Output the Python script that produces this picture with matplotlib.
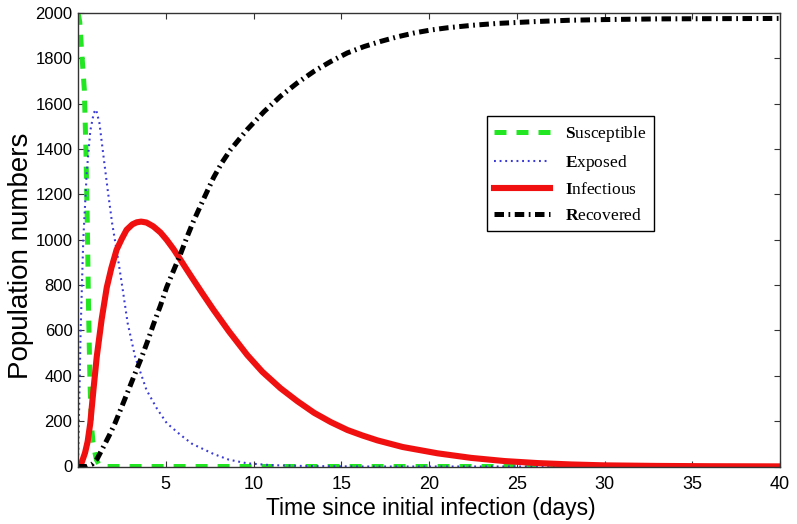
import matplotlib
matplotlib.use("Agg")
import matplotlib.pyplot as plt

# ---------------- data ----------------
t_S = [0, 0.1, 0.2, 0.3, 0.36, 0.45, 0.53, 0.6, 0.68, 0.76, 0.85, 0.93, 1.05, 1.2, 1.5, 40]
S = [2000, 1960, 1840, 1730, 1662, 1400, 1074, 700, 380, 191, 110, 74, 30, 8, 0, 0]

t_E = [0, 0.05, 0.15, 0.3, 0.5, 0.7, 0.9, 1.03, 1.22, 1.45, 1.69, 1.95, 2.26, 2.55,
       2.83, 3.25, 3.9, 4.5, 5.06, 5.83, 6.5, 7.73, 8.6, 9.64, 11, 13, 16, 20, 40]
E = [0, 200, 600, 1000, 1300, 1480, 1560, 1574, 1515, 1370, 1221, 1070, 926, 779,
     632, 485, 338, 255, 191, 140, 100, 55, 30, 14, 6, 2, 0, 0, 0]

t_I = [0, 0.2, 0.4, 0.55, 0.7, 0.88, 1.07, 1.35, 1.64, 1.9, 2.2, 2.5, 2.77, 3.1, 3.35,
       3.6, 3.9, 4.29, 4.7, 5.05, 5.45, 5.81, 6.2, 6.57, 7.1, 7.73, 8.6, 9.64, 10.5,
       11.54, 12.5, 13.45, 14.4, 15.35, 16.2, 17.07, 18.5, 20.5, 22.4, 24.3, 26.2,
       28.1, 30, 33, 36, 40]
I = [0, 15, 60, 110, 191, 338, 485, 650, 790, 875, 956, 1005, 1044, 1068, 1077,
     1080, 1076, 1059, 1032, 1000, 958, 915, 868, 824, 762, 690, 596, 492, 418,
     345, 288, 237, 196, 161, 137, 115, 86, 58, 38, 24, 15, 9, 5, 2.5, 1.2, 0.5]

t_R = [0, 0.5, 0.8, 1.1, 1.45, 1.8, 2.11, 2.5, 2.88, 3.25, 3.64, 4.0, 4.29, 4.7,
       5.05, 5.45, 5.83, 6.2, 6.57, 7.14, 7.73, 8.2, 8.69, 9.64, 10.6, 11.54, 12.5,
       13.45, 14.4, 15.35, 16.3, 17.26, 18.2, 19.16, 20.1, 21.07, 22.5, 23.9, 26,
       28, 30, 33, 36, 40]
R = [0, 0, 10, 35, 87, 140, 191, 265, 338, 410, 485, 560, 625, 710, 790, 865, 935,
     1010, 1080, 1177, 1275, 1340, 1397, 1486, 1565, 1633, 1692, 1743, 1786, 1824,
     1852, 1875, 1895, 1912, 1925, 1935, 1946, 1954, 1962, 1968, 1971, 1974, 1975,
     1976]

labels = [r"$\mathbf{S}$usceptible", r"$\mathbf{E}$xposed",
          r"$\mathbf{I}$nfectious", r"$\mathbf{R}$ecovered"]
x_ticks = [5, 10, 15, 20, 25, 30, 35, 40]
y_ticks = list(range(0, 2001, 200))

# ---------------- style ----------------
plt.rcParams['font.family'] = ['Liberation Sans', 'DejaVu Sans']
plt.rcParams['mathtext.fontset'] = 'custom'
plt.rcParams['mathtext.rm'] = 'Liberation Serif'
plt.rcParams['mathtext.bf'] = 'Liberation Serif:bold'

fig = plt.figure(figsize=(7.97, 5.24), dpi=100)
ax = fig.add_axes([78 / 797, 1 - 466.5 / 524, 702 / 797, 453.5 / 524])

ax.plot(t_S, S, color='#22e622', lw=3.6, dashes=(2.4, 2.0), label=labels[0])
ax.plot(t_E, E, color='#3a3ad8', lw=1.5, dashes=(0.9, 1.8), label=labels[1])
ax.plot(t_I, I, color='#f01010', lw=4.4, label=labels[2])
ax.plot(t_R, R, color='black', lw=3.6, dashes=(1.9, 0.9, 0.35, 0.9), label=labels[3])

ax.set_xlim(0, 40)
ax.set_ylim(0, 2000)
ax.set_xticks(x_ticks)
ax.set_yticks(y_ticks)
ax.tick_params(direction='in', top=True, right=True, length=4, width=0.8,
               color='#333333')
ax.tick_params(axis='x', labelsize=13, pad=7)
ax.tick_params(axis='y', labelsize=12, pad=4)
for sp in ax.spines.values():
    sp.set_color('#333333')
    sp.set_linewidth(1.0)

ax.set_xlabel('Time since initial infection (days)', fontsize=16.5)
ax.set_ylabel('Population numbers', fontsize=20)
ax.xaxis.set_label_coords(0.503, -0.068)
ax.yaxis.set_label_coords(-0.062, 0.465)

leg = ax.legend(loc='upper left', bbox_to_anchor=(0.582, 0.772),
                prop={'family': 'Liberation Serif', 'size': 12.5},
                frameon=True, fancybox=False, framealpha=1, edgecolor='black',
                borderpad=0.45, labelspacing=0.52, handlelength=3.2,
                handletextpad=0.85, borderaxespad=0)
leg.get_frame().set_linewidth(1.0)

fig.savefig('out.png', dpi=100)
